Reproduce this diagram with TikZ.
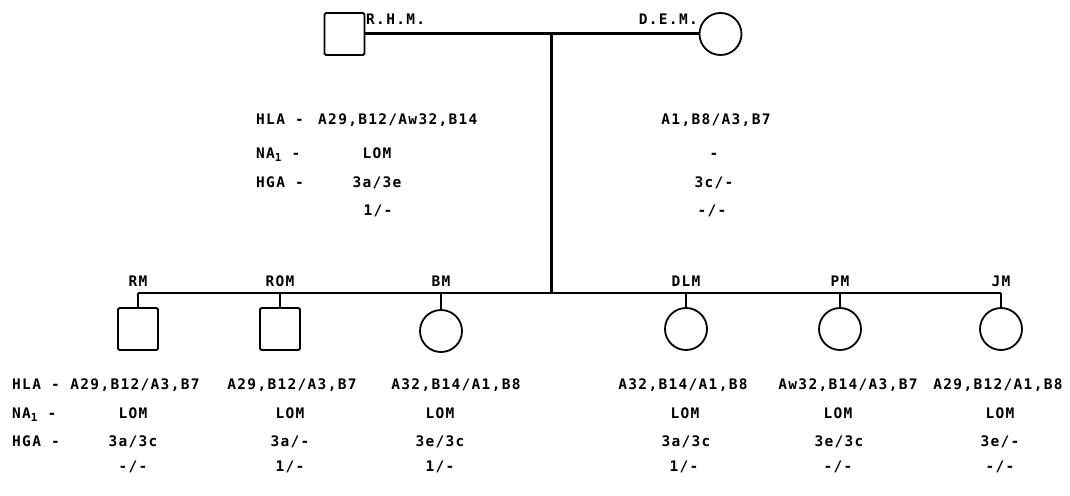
\documentclass[tikz,border=0pt]{standalone}
\usepackage{fontspec}
\newfontfamily\pedfont{DejaVu Sans Mono Bold}[LetterSpace=9]
\usetikzlibrary{positioning}
\newcommand{\naone}{NA\raisebox{-0.4ex}{\fontsize{11}{11}\selectfont 1}}

\tikzset{
  male/.style={draw, line width=1.8pt, rounded corners=1.5pt, minimum width=40pt, minimum height=42pt, inner sep=0pt},
  female/.style={draw, circle, line width=1.8pt, minimum size=42pt, inner sep=0pt},
  txt/.style={font=\pedfont\fontsize{14.5}{14.5}\selectfont, inner sep=0pt},
  row/.style={txt, anchor=base west},
  val/.style={txt, anchor=base},
  couple/.style={line width=3pt},
  sibline/.style={line width=2.4pt},
  tick/.style={line width=1.4pt}
}

\begin{document}
\begin{tikzpicture}[x=1pt,y=-1pt]
\useasboundingbox (0,0) rectangle (1070,495);

% parents
\node[male]   (rhm) at (344.5,34) {};
\node[female] (dem) at (720.5,34) {};
\node[txt,anchor=west] (rhm-name) at (366,19) {R.H.M.};
\node[txt,anchor=east] (dem-name) at (698,19) {D.E.M.};
\draw[couple] (rhm.east) -- (dem.west);
\coordinate (mid) at (551,34);
\coordinate (sib) at (551,293);
\draw[couple] (mid) -- (sib);

% parents typing
\node[row] (p-hla) at (256,124) {HLA -};
\node[row] (p-na)  at (256,158) {\naone\ -};
\node[row] (p-hga) at (256,187) {HGA -};
\node[row] (rhm-hla) at (318,124) {A29,B12/Aw32,B14};
\node[val] (rhm-na)  at (377,158) {LOM};
\node[val] (rhm-hga) at (377,187) {3a/3e};
\node[val] (rhm-hgb) at (378,215) {1/-};
\node[val] (dem-hla) at (716,124) {A1,B8/A3,B7};
\node[val] (dem-na)  at (714,158) {-};
\node[val] (dem-hga) at (714,187) {3c/-};
\node[val] (dem-hgb) at (712,215) {-/-};

% children
\node[male]   (rm)  at (138,329) {};
\node[male]   (rom) at (280,329) {};
\node[female] (bm)  at (441,331) {};
\node[female] (dlm) at (686,329) {};
\node[female] (pm)  at (840,329) {};
\node[female] (jm)  at (1001,329) {};

\coordinate (t-rm)  at (rm |- sib);
\coordinate (t-rom) at (rom |- sib);
\coordinate (t-bm)  at (bm |- sib);
\coordinate (t-dlm) at (dlm |- sib);
\coordinate (t-pm)  at (pm |- sib);
\coordinate (t-jm)  at (jm |- sib);
\draw[sibline] (t-rm) -- (t-jm);
\draw[tick] (t-rm) -- (rm.north);
\draw[tick] (t-rom) -- (rom.north);
\draw[sibline] (t-bm) -- (bm.north);
\draw[tick] (t-dlm) -- (dlm.north);
\draw[tick] (t-pm) -- (pm.north);
\draw[tick] (t-jm) -- (jm.north);

\node[txt, above=6pt of t-rm]  (rm-name)  {RM};
\node[txt, above=6pt of t-rom] (rom-name) {ROM};
\node[txt, above=6pt of t-bm]  (bm-name)  {BM};
\node[txt, above=6pt of t-dlm] (dlm-name) {DLM};
\node[txt, above=6pt of t-pm]  (pm-name)  {PM};
\node[txt, above=6pt of t-jm]  (jm-name)  {JM};

% children typing
\node[row] (c-hla) at (12,389) {HLA -};
\node[row] (c-na)  at (12,418) {\naone\ -};
\node[row] (c-hga) at (12,446) {HGA -};

\node[val] (rm-hla) at (135,389) {A29,B12/A3,B7};
\node[val] (rm-na)  at (133,418) {LOM};
\node[val] (rm-hga) at (133,446) {3a/3c};
\node[val] (rm-hgb) at (133,471) {-/-};

\node[val] (rom-hla) at (292,389) {A29,B12/A3,B7};
\node[val] (rom-na)  at (290,418) {LOM};
\node[val] (rom-hga) at (290,446) {3a/-};
\node[val] (rom-hgb) at (290,471) {1/-};

\node[val] (bm-hla) at (456,389) {A32,B14/A1,B8};
\node[val] (bm-na)  at (440,418) {LOM};
\node[val] (bm-hga) at (440,446) {3e/3c};
\node[val] (bm-hgb) at (440,471) {1/-};

\node[val] (dlm-hla) at (683,389) {A32,B14/A1,B8};
\node[val] (dlm-na)  at (685,418) {LOM};
\node[val] (dlm-hga) at (686,446) {3a/3c};
\node[val] (dlm-hgb) at (684,471) {1/-};

\node[val] (pm-hla) at (848,389) {Aw32,B14/A3,B7};
\node[val] (pm-na)  at (838,418) {LOM};
\node[val] (pm-hga) at (839,446) {3e/3c};
\node[val] (pm-hgb) at (838,471) {-/-};

\node[val] (jm-hla) at (998,389) {A29,B12/A1,B8};
\node[val] (jm-na)  at (1000,418) {LOM};
\node[val] (jm-hga) at (1000,446) {3e/-};
\node[val] (jm-hgb) at (1000,471) {-/-};
\end{tikzpicture}
\end{document}
